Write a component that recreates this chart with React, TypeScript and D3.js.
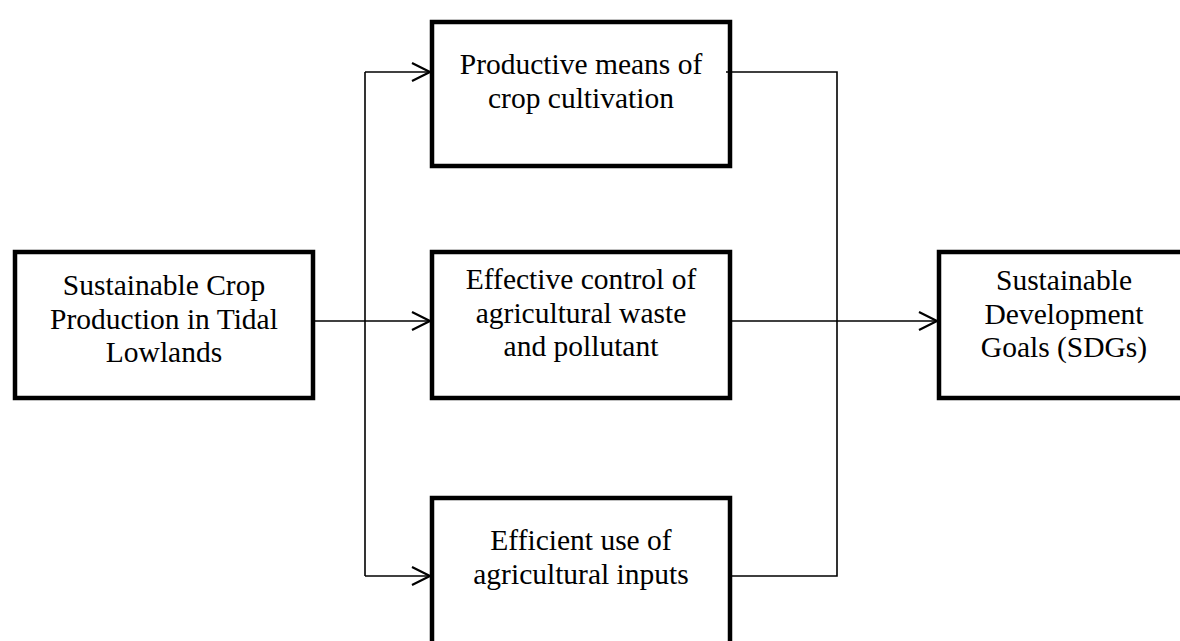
import React, { useEffect, useRef } from 'react';
import * as d3 from 'd3';

// node texts (one entry per line)
const sourceLabel = ['Sustainable Crop', 'Production in Tidal', 'Lowlands'];
const pathwayLabels = [
  ['Productive means of', 'crop cultivation'],
  ['Effective control of', 'agricultural waste', 'and pollutant'],
  ['Efficient use of', 'agricultural inputs'],
];
const goalLabel = ['Sustainable', 'Development', 'Goals (SDGs)'];

const W = 1180;
const H = 641;
const FONT = "'Liberation Serif', 'Times New Roman', serif";

export default function App() {
  const ref = useRef<SVGSVGElement>(null);

  useEffect(() => {
    const svg = d3.select(ref.current);
    svg.selectAll('*').remove();

    // column positions (left edge, right edge) of boxes
    const col = d3.scaleOrdinal<string, [number, number]>()
      .domain(['source', 'pathway', 'goal'])
      .range([[15, 313], [432, 730], [939, 1190]]);

    // boxes: top, bottom, anchor y of connector, first baseline, text centre
    const boxes = [
      { c: 'source', top: 252, bottom: 398, ay: 321, base: 295, cx: 164, lines: sourceLabel },
      { c: 'pathway', top: 22, bottom: 166, ay: 72, base: 74, cx: 581, lines: pathwayLabels[0] },
      { c: 'pathway', top: 252, bottom: 398, ay: 321, base: 289, cx: 581, lines: pathwayLabels[1] },
      { c: 'pathway', top: 498, bottom: 660, ay: 576, base: 550, cx: 581, lines: pathwayLabels[2] },
      { c: 'goal', top: 252, bottom: 398, ay: 321, base: 290, cx: 1064, lines: goalLabel },
    ];
    const lineH = 33.5;

    const g = svg.append('g');

    const nodes = g.selectAll('g.node').data(boxes).enter().append('g');
    nodes.append('rect')
      .attr('x', d => col(d.c)[0])
      .attr('y', d => d.top)
      .attr('width', d => col(d.c)[1] - col(d.c)[0])
      .attr('height', d => d.bottom - d.top)
      .attr('fill', '#fff')
      .attr('stroke', '#000')
      .attr('stroke-width', 4.5);

    nodes.each(function (d) {
      d3.select(this).selectAll('text').data(d.lines).enter().append('text')
        .attr('x', d.cx)
        .attr('y', (_, i) => d.base + i * lineH)
        .attr('text-anchor', 'middle')
        .attr('font-family', FONT)
        .attr('font-size', 29.5)
        .attr('fill', '#000')
        .text(t => t);
    });

    const src = boxes[0];
    const paths = boxes.slice(1, 4);
    const goal = boxes[4];
    const busL = 365;
    const busR = 837;

    const line = d3.line();
    const conn: [number, number][][] = [
      [[col('source')[1] + 2, src.ay], [col('pathway')[0] - 2, src.ay]],
      [[busL, paths[0].ay], [busL, paths[2].ay]],
      ...paths.filter((_, i) => i !== 1).map(p => [[busL, p.ay], [col('pathway')[0] - 2, p.ay]] as [number, number][]),
      [[col('pathway')[1] - 4, paths[0].ay], [busR, paths[0].ay], [busR, paths[2].ay], [col('pathway')[1] + 2, paths[2].ay]],
      [[col('pathway')[1] + 2, paths[1].ay], [col('goal')[0] - 2, goal.ay]],
    ];
    g.selectAll('path.conn').data(conn).enter().append('path')
      .attr('d', d => line(d))
      .attr('fill', 'none')
      .attr('stroke', '#000')
      .attr('stroke-width', 1.6);

    // open arrowheads at box inputs
    const tips: [number, number][] = [
      ...paths.map(p => [col('pathway')[0] - 2, p.ay] as [number, number]),
      [col('goal')[0] - 2, goal.ay],
    ];
    g.selectAll('path.head').data(tips).enter().append('path')
      .attr('d', ([x, y]) => line([[x - 18, y - 9], [x, y], [x - 18, y + 9]]))
      .attr('fill', 'none')
      .attr('stroke', '#000')
      .attr('stroke-width', 2.2);
  }, []);

  return (
    <svg ref={ref} width={W} height={H}
      style={{ position: 'absolute', left: 0, top: 0, background: '#fff' }} />
  );
}
